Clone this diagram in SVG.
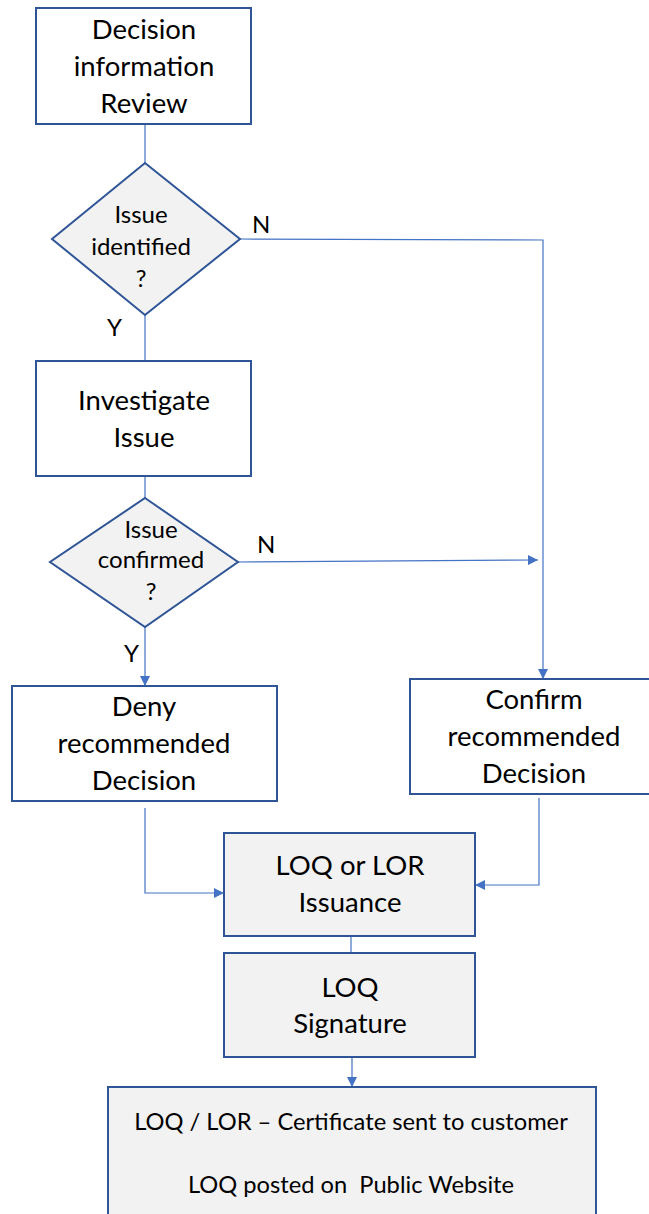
<svg xmlns="http://www.w3.org/2000/svg" width="649" height="1214" viewBox="0 0 649 1214">
<style>
.node{stroke:#2F5597;stroke-width:2}
.w{fill:#ffffff}
.g{fill:#f2f2f2}
.t{font-family:Lato,"Liberation Sans",sans-serif;fill:#000;text-anchor:middle}
.bt{font-size:27.5px}
.dt{font-size:24px}
.lb{font-size:24px;text-anchor:start}
.ft{font-size:23.7px}
.c{fill:none;stroke:#4472C4;stroke-width:1.2}
</style>
<defs>
<marker id="ah" viewBox="0 0 10 10" refX="10" refY="5" markerWidth="10" markerHeight="10" markerUnits="userSpaceOnUse" orient="auto">
<path d="M0,0 L10,5 L0,10 Z" fill="#4472C4"/>
</marker>
</defs>
<g id="connectors">
<path class="c" d="M145,124 V163"/>
<path class="c" d="M145,315 V361"/>
<path class="c" d="M240,239 L543,240 V679" marker-end="url(#ah)"/>
<path class="c" d="M145,476 V498"/>
<path class="c" d="M238,562 L538,560" marker-end="url(#ah)"/>
<path class="c" d="M145,627 V686" marker-end="url(#ah)"/>
<path class="c" d="M145,808 V893 H224" marker-end="url(#ah)"/>
<path class="c" d="M539,798 V885 H475" marker-end="url(#ah)"/>
<path class="c" d="M351,936 V953"/>
<path class="c" d="M352,1057 V1087" marker-end="url(#ah)"/>
<text class="t lb" x="252" y="233">N</text>
<text class="t lb" x="107" y="336">Y</text>
<text class="t lb" x="257" y="553">N</text>
<text class="t lb" x="124" y="662">Y</text>
</g>
<g id="n1">
<rect class="node w" x="36" y="8" width="215" height="116"/>
<text class="t bt" x="144" y="39">Decision</text>
<text class="t bt" x="144" y="76">information</text>
<text class="t bt" x="144" y="113">Review</text>
</g>
<g id="d1">
<polygon class="node g" points="145,163 240,239 145,315 52,239"/>
<text class="t dt" x="141" y="223">Issue</text>
<text class="t dt" x="141" y="255">identified</text>
<text class="t dt" x="141" y="287">?</text>
</g>
<g id="n2">
<rect class="node w" x="36" y="361" width="215" height="115"/>
<text class="t bt" x="144" y="410">Investigate</text>
<text class="t bt" x="144" y="447">Issue</text>
</g>
<g id="d2">
<polygon class="node g" points="145,498 238,562 145,627 50,562"/>
<text class="t dt" x="151" y="538">Issue</text>
<text class="t dt" x="151" y="568">confirmed</text>
<text class="t dt" x="151" y="600">?</text>
</g>
<g id="n3">
<rect class="node w" x="12" y="686" width="265" height="115"/>
<text class="t bt" x="144" y="716">Deny</text>
<text class="t bt" x="144" y="753">recommended</text>
<text class="t bt" x="144" y="790">Decision</text>
</g>
<g id="n4">
<rect class="node w" x="410" y="679" width="245" height="115"/>
<text class="t bt" x="534" y="709">Confirm</text>
<text class="t bt" x="534" y="746">recommended</text>
<text class="t bt" x="534" y="783">Decision</text>
</g>
<g id="n5">
<rect class="node g" x="224" y="833" width="251" height="103"/>
<text class="t bt" x="350" y="875">LOQ or LOR</text>
<text class="t bt" x="350" y="912">Issuance</text>
</g>
<g id="n6">
<rect class="node g" x="224" y="953" width="251" height="104"/>
<text class="t bt" x="350" y="997">LOQ</text>
<text class="t bt" x="350" y="1033">Signature</text>
</g>
<g id="n7">
<rect class="node g" x="108" y="1087" width="488" height="140"/>
<text class="t ft" x="351" y="1130">LOQ / LOR – Certificate sent to customer</text>
<text class="t ft" x="351" y="1193" xml:space="preserve">LOQ posted on  Public Website</text>
</g>
</svg>
